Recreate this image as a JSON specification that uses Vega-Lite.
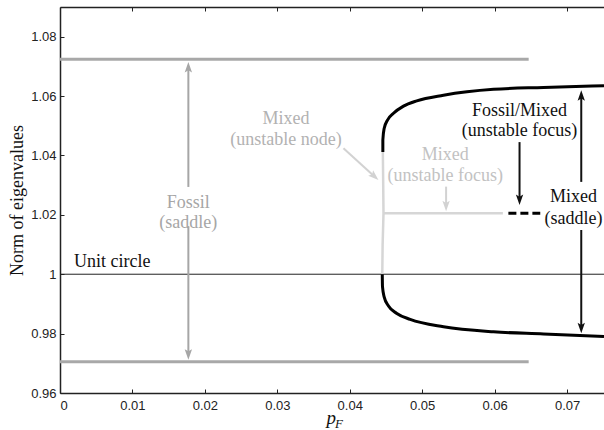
{
  "$schema": "https://vega.github.io/schema/vega-lite/v6.json",
  "width": 544,
  "height": 386,
  "autosize": "none",
  "padding": {"left": 60, "top": 7, "right": 0, "bottom": 37},
  "config": {
    "view": {"stroke": null},
    "axis": {"grid": false, "domainColor": "#222", "domainWidth": 1.5, "tickColor": "#222", "tickWidth": 1, "labelFont": "Liberation Sans", "labelFontSize": 13, "labelColor": "#222"}
  },
  "resolve": {"axis": {"x": "independent"}},
  "datasets": {
    "curves": [
      {"s": "fossilTop", "i": 0, "x": 0, "y": 1.0724},
      {"s": "fossilTop", "i": 1, "x": 0.0647, "y": 1.0724},
      {"s": "fossilBottom", "i": 0, "x": 0, "y": 0.9705},
      {"s": "fossilBottom", "i": 1, "x": 0.0647, "y": 0.9705},
      {"s": "unit", "i": 0, "x": 0, "y": 1.0},
      {"s": "unit", "i": 1, "x": 0.0751, "y": 1.0},
      {"s": "mixedNode", "i": 0, "x": 0.04457, "y": 1.0412},
      {"s": "mixedNode", "i": 1, "x": 0.04462, "y": 1.03},
      {"s": "mixedNode", "i": 2, "x": 0.04466, "y": 1.0205},
      {"s": "mixedNode", "i": 3, "x": 0.04454, "y": 1.01},
      {"s": "mixedNode", "i": 4, "x": 0.04449, "y": 1.0},
      {"s": "mixedFocus", "i": 0, "x": 0.04466, "y": 1.0205},
      {"s": "mixedFocus", "i": 1, "x": 0.06114, "y": 1.0205},
      {"s": "fossilMixed", "i": 0, "x": 0.0619, "y": 1.0205},
      {"s": "fossilMixed", "i": 1, "x": 0.0663, "y": 1.0205},
      {"s": "upper", "i": 0, "x": 0.04457, "y": 1.0412},
      {"s": "upper", "i": 1, "x": 0.04457, "y": 1.0452},
      {"s": "upper", "i": 2, "x": 0.04475, "y": 1.0491},
      {"s": "upper", "i": 3, "x": 0.04521, "y": 1.0519},
      {"s": "upper", "i": 4, "x": 0.04604, "y": 1.0542},
      {"s": "upper", "i": 5, "x": 0.04742, "y": 1.0566},
      {"s": "upper", "i": 6, "x": 0.04926, "y": 1.0584},
      {"s": "upper", "i": 7, "x": 0.05294, "y": 1.0603},
      {"s": "upper", "i": 8, "x": 0.05985, "y": 1.0623},
      {"s": "upper", "i": 9, "x": 0.06675, "y": 1.0629},
      {"s": "upper", "i": 10, "x": 0.0751, "y": 1.0635},
      {"s": "lower", "i": 0, "x": 0.04449, "y": 1.0},
      {"s": "lower", "i": 1, "x": 0.04452, "y": 0.9958},
      {"s": "lower", "i": 2, "x": 0.04475, "y": 0.9924},
      {"s": "lower", "i": 3, "x": 0.04535, "y": 0.9893},
      {"s": "lower", "i": 4, "x": 0.0465, "y": 0.9868},
      {"s": "lower", "i": 5, "x": 0.04834, "y": 0.9848},
      {"s": "lower", "i": 6, "x": 0.05294, "y": 0.9823},
      {"s": "lower", "i": 7, "x": 0.05985, "y": 0.9806},
      {"s": "lower", "i": 8, "x": 0.06675, "y": 0.9799},
      {"s": "lower", "i": 9, "x": 0.0751, "y": 0.979}
    ],
    "shafts": [
      {"tone": "gray", "x": 0.01772, "y": 1.0294, "x2": 0.01772, "y2": 1.0695},
      {"tone": "gray", "x": 0.01772, "y": 1.0162, "x2": 0.01772, "y2": 0.9732},
      {"tone": "light", "x": 0.03913, "y": 1.0424, "x2": 0.04345, "y2": 1.0328},
      {"tone": "light", "x": 0.0533, "y": 1.0295, "x2": 0.0533, "y2": 1.0232},
      {"tone": "black", "x": 0.06344, "y": 1.0445, "x2": 0.06344, "y2": 1.0253},
      {"tone": "black", "x": 0.07196, "y": 1.0311, "x2": 0.07196, "y2": 1.06},
      {"tone": "black", "x": 0.07196, "y": 1.0149, "x2": 0.07196, "y2": 0.9821}
    ],
    "heads": [
      {"tone": "gray", "dir": "up", "x": 0.01772, "y": 1.0715},
      {"tone": "gray", "dir": "down", "x": 0.01772, "y": 0.9712},
      {"tone": "light", "dir": "diag", "x": 0.04396, "y": 1.0317},
      {"tone": "light", "dir": "down", "x": 0.0533, "y": 1.0212},
      {"tone": "black", "dir": "down", "x": 0.06344, "y": 1.0233},
      {"tone": "black", "dir": "up", "x": 0.07196, "y": 1.062},
      {"tone": "black", "dir": "down", "x": 0.07196, "y": 0.9801}
    ],
    "texts": [
      {"t": "Fossil", "tone": "gray", "x": 0.01772, "y": 1.024},
      {"t": "(saddle)", "tone": "gray", "x": 0.01772, "y": 1.0172},
      {"t": "Mixed", "tone": "node", "x": 0.0312, "y": 1.0522},
      {"t": "(unstable node)", "tone": "node", "x": 0.0312, "y": 1.0453},
      {"t": "Mixed", "tone": "focus", "x": 0.05318, "y": 1.0403},
      {"t": "(unstable focus)", "tone": "focus", "x": 0.05318, "y": 1.0331},
      {"t": "Fossil/Mixed", "tone": "black", "x": 0.06344, "y": 1.055},
      {"t": "(unstable focus)", "tone": "black", "x": 0.06344, "y": 1.0482},
      {"t": "Mixed", "tone": "black", "x": 0.0709, "y": 1.0259},
      {"t": "(saddle)", "tone": "black", "x": 0.0709, "y": 1.0186},
      {"t": "Unit circle", "tone": "black", "x": 0.00722, "y": 1.0042}
    ]
  },
  "layer": [
    {
      "data": {"name": "curves"},
      "transform": [{"filter": "datum.s === 'fossilTop' || datum.s === 'fossilBottom'"}],
      "mark": {"type": "line", "color": "#a8a8a8", "strokeWidth": 3},
      "encoding": {
        "x": {"field": "x", "type": "quantitative", "scale": {"domain": [0, 0.0751], "nice": false, "zero": false},
          "axis": {"orient": "bottom", "values": [0, 0.01, 0.02, 0.03, 0.04, 0.05, 0.06, 0.07], "format": ".2~f", "tickSize": -4, "labelPadding": 10, "title": null}},
        "y": {"field": "y", "type": "quantitative", "scale": {"domain": [0.96, 1.09], "nice": false, "zero": false},
          "axis": {"values": [0.96, 0.98, 1.0, 1.02, 1.04, 1.06, 1.08], "format": ".2~f", "tickSize": -4, "labelPadding": 8, "title": "Norm of eigenvalues", "titleFont": "Liberation Serif", "titleFontSize": 18, "titleFontWeight": "normal", "titleColor": "#111", "titlePadding": 4}},
        "detail": {"field": "s"},
        "order": {"field": "i"}
      }
    },
    {
      "data": {"name": "curves"},
      "transform": [{"filter": "datum.s === 'unit'"}],
      "mark": {"type": "line", "color": "#222", "strokeWidth": 1},
      "encoding": {
        "x": {"field": "x", "type": "quantitative", "axis": {"orient": "top", "values": [0, 0.01, 0.02, 0.03, 0.04, 0.05, 0.06, 0.07], "labels": false, "tickSize": -4, "title": null}},
        "y": {"field": "y", "type": "quantitative"},
        "order": {"field": "i"}
      }
    },
    {
      "data": {"name": "curves"},
      "transform": [{"filter": "datum.s === 'mixedNode' || datum.s === 'mixedFocus'"}],
      "mark": {"type": "line", "color": "#d6d6d6", "strokeWidth": 2.5},
      "encoding": {
        "x": {"field": "x", "type": "quantitative", "axis": null},
        "y": {"field": "y", "type": "quantitative"},
        "detail": {"field": "s"},
        "order": {"field": "i"}
      }
    },
    {
      "data": {"name": "curves"},
      "transform": [{"filter": "datum.s === 'upper' || datum.s === 'lower'"}],
      "mark": {"type": "line", "color": "#000", "strokeWidth": 3, "interpolate": "monotone"},
      "encoding": {
        "x": {"field": "x", "type": "quantitative", "axis": null},
        "y": {"field": "y", "type": "quantitative"},
        "detail": {"field": "s"},
        "order": {"field": "i"}
      }
    },
    {
      "data": {"name": "curves"},
      "transform": [{"filter": "datum.s === 'fossilMixed'"}],
      "mark": {"type": "line", "color": "#000", "strokeWidth": 3, "strokeDash": [8, 4]},
      "encoding": {
        "x": {"field": "x", "type": "quantitative", "axis": null},
        "y": {"field": "y", "type": "quantitative"},
        "order": {"field": "i"}
      }
    },
    {
      "data": {"name": "shafts"},
      "mark": {"type": "rule", "strokeWidth": 2},
      "encoding": {
        "x": {"field": "x", "type": "quantitative", "axis": null},
        "y": {"field": "y", "type": "quantitative"},
        "x2": {"field": "x2"},
        "y2": {"field": "y2"},
        "color": {"field": "tone", "type": "nominal", "scale": {"domain": ["gray", "node", "focus", "light", "black"], "range": ["#a6a6a6", "#b2b2b2", "#c2c2c2", "#d2d2d2", "#111111"]}, "legend": null}
      }
    },
    {
      "data": {"name": "heads"},
      "transform": [{"filter": "datum.dir === 'up'"}],
      "mark": {"type": "point", "filled": true, "opacity": 1, "shape": "M0,0L0.7,2L0,1.6L-0.7,2Z", "size": 110, "angle": 0},
      "encoding": {
        "x": {"field": "x", "type": "quantitative", "axis": null},
        "y": {"field": "y", "type": "quantitative"},
        "color": {"field": "tone", "type": "nominal", "scale": {"domain": ["gray", "node", "focus", "light", "black"], "range": ["#a6a6a6", "#b2b2b2", "#c2c2c2", "#d2d2d2", "#111111"]}, "legend": null}
      }
    },
    {
      "data": {"name": "heads"},
      "transform": [{"filter": "datum.dir === 'down'"}],
      "mark": {"type": "point", "filled": true, "opacity": 1, "shape": "M0,0L0.7,2L0,1.6L-0.7,2Z", "size": 110, "angle": 180},
      "encoding": {
        "x": {"field": "x", "type": "quantitative", "axis": null},
        "y": {"field": "y", "type": "quantitative"},
        "color": {"field": "tone", "type": "nominal", "scale": {"domain": ["gray", "node", "focus", "light", "black"], "range": ["#a6a6a6", "#b2b2b2", "#c2c2c2", "#d2d2d2", "#111111"]}, "legend": null}
      }
    },
    {
      "data": {"name": "heads"},
      "transform": [{"filter": "datum.dir === 'diag'"}],
      "mark": {"type": "point", "filled": true, "opacity": 1, "shape": "M0,0L0.7,2L0,1.6L-0.7,2Z", "size": 110, "angle": 132},
      "encoding": {
        "x": {"field": "x", "type": "quantitative", "axis": null},
        "y": {"field": "y", "type": "quantitative"},
        "color": {"field": "tone", "type": "nominal", "scale": {"domain": ["gray", "node", "focus", "light", "black"], "range": ["#a6a6a6", "#b2b2b2", "#c2c2c2", "#d2d2d2", "#111111"]}, "legend": null}
      }
    },
    {
      "data": {"name": "texts"},
      "mark": {"type": "text", "font": "Liberation Serif", "fontSize": 18, "align": "center", "baseline": "middle"},
      "encoding": {
        "x": {"field": "x", "type": "quantitative", "axis": null},
        "y": {"field": "y", "type": "quantitative"},
        "text": {"field": "t"},
        "color": {"field": "tone", "type": "nominal", "scale": {"domain": ["gray", "node", "focus", "light", "black"], "range": ["#a6a6a6", "#b2b2b2", "#c2c2c2", "#d2d2d2", "#111111"]}, "legend": null}
      }
    },
    {
      "data": {"values": [{"t": "p", "x": 0.03743, "y": 0.94955}]},
      "mark": {"type": "text", "font": "Liberation Serif", "fontSize": 19, "fontStyle": "italic", "align": "center", "baseline": "alphabetic", "color": "#111"},
      "encoding": {
        "x": {"field": "x", "type": "quantitative", "axis": null},
        "y": {"field": "y", "type": "quantitative"},
        "text": {"field": "t"}
      }
    },
    {
      "data": {"values": [{"t": "F", "x": 0.03795, "y": 0.9483}]},
      "mark": {"type": "text", "font": "Liberation Serif", "fontSize": 13, "fontStyle": "italic", "align": "left", "baseline": "alphabetic", "color": "#111"},
      "encoding": {
        "x": {"field": "x", "type": "quantitative", "axis": null},
        "y": {"field": "y", "type": "quantitative"},
        "text": {"field": "t"}
      }
    }
  ]
}
